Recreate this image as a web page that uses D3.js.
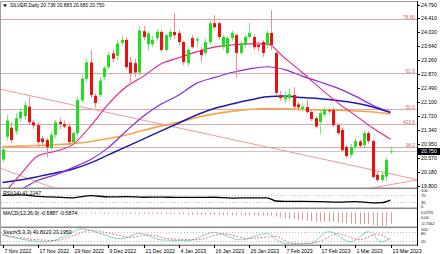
<!DOCTYPE html>
<html>
<head>
<meta charset="utf-8">
<script src="https://cdn.jsdelivr.net/npm/d3@7"></script>
<style>
  body { margin: 0; background: #fff; }
  svg { display: block; font-family: "Liberation Sans", Arial, sans-serif; }
</style>
</head>
<body>
<div id="chart"></div>
<script>
// ---- data (bar index 0 = 7 Nov 2022, 88 = 13 Mar 2023) ----
const opens  = [20.52,21.15,21.40,21.30,21.66,21.72,21.98,21.55,21.47,21.10,21.06,20.84,21.20,21.56,21.50,21.43,21.00,21.25,22.15,22.75,
                23.20,22.28,22.30,22.80,23.07,23.45,23.38,23.74,23.82,23.20,23.18,22.92,24.06,23.70,23.70,23.87,24.04,23.54,23.90,24.04,
                24.01,23.76,23.18,23.87,23.80,23.54,23.46,23.76,24.28,24.28,23.62,23.46,23.87,23.95,23.46,23.68,23.90,23.90,23.68,23.76,
                23.68,24.01,23.46,22.30,22.18,22.22,22.30,22.04,21.92,21.97,21.83,21.66,21.56,21.76,21.88,21.89,21.47,21.34,20.87,20.65,
                20.87,21.02,20.92,21.25,21.03,20.10,19.96,20.05,20.739];
const highs  = [20.90,21.75,21.55,21.80,21.95,22.14,22.26,21.62,21.55,21.18,21.12,21.28,21.62,21.66,21.60,21.50,21.30,22.25,22.85,23.30,
                23.54,22.35,22.80,23.10,23.50,23.55,23.82,23.95,23.88,23.35,23.30,24.20,24.20,24.05,23.92,24.12,24.10,24.00,24.12,24.56,
                24.10,23.80,23.62,23.95,23.90,23.62,23.85,24.35,24.50,24.32,23.95,23.92,24.08,24.00,23.80,23.96,24.28,23.98,23.78,23.82,
                24.08,24.64,23.55,22.42,22.40,22.48,22.52,22.12,22.08,22.22,21.90,21.72,21.86,21.96,21.95,21.95,21.52,21.40,20.92,20.95,
                21.10,21.08,21.32,21.30,21.08,20.18,20.18,20.58,20.883];
const lows   = [20.44,21.05,20.98,21.20,21.55,21.62,21.48,21.36,20.86,20.92,20.58,20.78,21.12,21.36,21.38,20.92,20.95,21.18,22.10,22.65,
                22.22,21.95,22.25,22.70,23.00,23.20,23.25,23.65,23.00,22.58,22.80,22.85,23.82,23.52,23.62,23.80,23.48,23.50,23.82,23.85,
                23.66,23.12,23.10,23.58,23.62,23.21,23.40,23.70,24.10,23.84,23.55,23.40,23.80,22.77,23.40,23.60,23.85,23.55,23.50,23.35,
                23.60,23.55,22.30,22.14,22.06,22.14,21.92,21.88,21.84,21.78,21.58,21.38,21.22,21.70,21.78,21.42,21.20,20.72,20.55,20.58,
                20.80,20.84,20.86,20.96,20.00,19.90,19.90,19.92,20.680];
const closes = [20.80,21.60,21.06,21.66,21.84,22.02,21.55,21.46,21.00,21.00,20.86,21.20,21.55,21.50,21.43,21.00,21.25,22.16,22.75,23.20,
                22.30,22.08,22.70,23.05,23.40,23.30,23.72,23.82,23.07,22.90,22.92,24.08,23.90,24.00,23.82,24.04,23.54,23.95,24.04,23.95,
                23.76,23.21,23.54,23.62,23.84,23.40,23.76,24.28,24.17,23.90,23.90,23.87,24.01,23.46,23.73,23.90,24.01,23.62,23.62,23.46,
                24.01,23.68,22.36,22.22,22.30,22.32,21.98,21.96,21.98,21.83,21.64,21.43,21.80,21.89,21.85,21.47,21.25,20.78,20.62,20.87,
                21.03,20.90,21.25,21.03,20.04,19.96,20.10,20.51,20.750];

const dateTicks    = ["7 Nov 2022","17 Nov 2022","29 Nov 2022","9 Dec 2022","21 Dec 2022","4 Jan 2023",
                      "16 Jan 2023","26 Jan 2023","7 Feb 2023","17 Feb 2023","1 Mar 2023","13 Mar 2023"];
const dateTickBars = [0, 8, 16, 24, 32, 40, 48, 56, 64, 72, 80, 88];
const priceTicks   = [24.790,24.410,24.030,23.640,23.260,22.870,22.490,22.100,21.720,21.340,20.950,20.570,20.180,19.800];

const fibLevels = [24.40, 22.915, 21.906, 21.49, 20.875];
const fibLabels = ["78.60", "61.8", "50.0", "423.6", "38.2"];

// trend lines: two anchor points each (bar, price)
const trendBars   = [[0, 88], [0, 10], [83.4, 94.1]];
const trendPrices = [[22.446, 20.128], [20.26, 19.81], [19.73, 19.96]];

// moving averages sampled every 4 bars
const maBars   = [0,4,8,12,16,20,24,28,32,36,40,44,48,52,56,60,64,68,72,76,80,84,88];
const maFast   = [19.54,20.10,20.62,20.75,20.94,21.45,22.05,22.52,22.82,23.16,23.33,23.49,23.62,23.68,23.71,23.71,23.32,22.92,22.49,22.09,21.74,21.39,21.08];
const maMid    = [19.45,19.68,19.95,20.10,20.30,20.52,20.85,21.30,21.72,22.05,22.30,22.62,22.78,22.92,23.02,23.08,23.00,22.82,22.66,22.49,22.27,22.02,21.84];
const maSlow   = [19.89,19.96,20.05,20.15,20.26,20.43,20.65,20.87,21.09,21.31,21.53,21.75,21.93,22.05,22.16,22.25,22.27,22.23,22.20,22.15,22.08,21.97,21.82];
const maLong   = [20.88,20.89,20.91,20.93,20.96,21.02,21.10,21.20,21.33,21.45,21.55,21.68,21.78,21.85,21.90,21.93,21.92,21.90,21.89,21.88,21.86,21.83,21.78];

// RSI(14)
const rsiBars = [0,4,8,12,16,20,24,28,32,36,40,44,48,52,56,60,62,64,68,72,76,80,84,86,88];
const rsiVals = [67,70,62,58,54,66,59,60,57,58,56,56,57,52,54,54,36,34,34,33,30,33,26,27,41.2];

// MACD(12,26,9) histogram, one value per bar
const macdVals = [-0.02,-0.03,-0.03,-0.04,-0.04,-0.05,-0.05,-0.05,-0.06,-0.06,-0.06,-0.06,-0.05,-0.05,-0.05,-0.06,-0.06,-0.05,-0.04,-0.04,
                  -0.05,-0.06,-0.06,-0.06,-0.06,-0.06,-0.06,-0.06,-0.07,-0.08,-0.08,-0.07,-0.07,-0.08,-0.08,-0.08,-0.09,-0.09,-0.09,-0.09,
                  -0.10,-0.11,-0.12,-0.12,-0.12,-0.13,-0.13,-0.12,-0.12,-0.13,-0.14,-0.14,-0.14,-0.15,-0.15,-0.15,-0.15,-0.16,-0.16,-0.17,
                  -0.17,-0.17,-0.22,-0.27,-0.31,-0.34,-0.37,-0.40,-0.42,-0.44,-0.46,-0.48,-0.49,-0.49,-0.49,-0.50,-0.52,-0.55,-0.58,-0.60,
                  -0.61,-0.62,-0.61,-0.61,-0.66,-0.70,-0.7162,-0.68,-0.5887];

// Stochastic(5,3,3)
const stoBars   = [0,5,10,14,18,22,27,31,36,42,48,54,60,63,65,70,74,79,83,86,88];
const stoMain   = [59,30,16,50,98,70,35,69,29,24,75,29,69,15,2,8,80,16,80,16,40.8];
const sigBars   = [0,6,12,16,20,24,29,33,38,44,50,56,62,65,68,72,76,81,85,88];
const stoSignal = [62,35,25,55,88,72,45,60,35,30,66,38,50,12,4,20,68,30,65,23.2];

// indicator scale labels: [value, text, nudge in px]
const rsiLabels  = [[100, "100", 1.5], [70, "70", 0.6], [30, "30", 0], [0, "0", -0.7]];
const macdLabels = [[0.0755, "0.0755", 1.5], [0, "0.00", 5], [-0.7162, "-0.7162", -2.4]];
const stoLabels  = [[100, "100", 1.3], [80, "80", 2.3], [20, "20", 0]];

// ---- layout ----
const W = 440, H = 254;
const PL = 1, PR = 417;
const MAIN = { top: 2, bottom: 188 };
const RSI_P = { top: 189, bottom: 208 };
const MACD_P = { top: 209, bottom: 227 };
const STO_P = { top: 228, bottom: 245 };
const FONT = 5.2, SMALL = 4;

const svg = d3.select("#chart").append("svg").attr("width", W).attr("height", H);

const x = d3.scaleLinear().domain([0, 88]).range([2.5, 390.5]);
const y = d3.scaleLinear().domain([19.80, 24.79]).range([185.7, 4.7]);
const yRsi = d3.scaleLinear().domain([0, 100]).range([RSI_P.bottom - 0.5, RSI_P.top + 0.5]);
const yMacd = d3.scaleLinear().domain([-0.7162, 0.0755]).range([MACD_P.bottom - 1, MACD_P.top + 2]);
const ySto = d3.scaleLinear().domain([0, 100]).range([STO_P.bottom - 0.5, STO_P.top + 0.5]);

// clip paths for each pane
function clip(id, p) {
  svg.append("clipPath").attr("id", id)
    .append("rect").attr("x", PL).attr("y", p.top).attr("width", PR - PL).attr("height", p.bottom - p.top);
}
clip("cMain", MAIN); clip("cRsi", RSI_P); clip("cMacd", MACD_P); clip("cSto", STO_P);

const main = svg.append("g").attr("clip-path", "url(#cMain)");

// fibonacci levels
main.selectAll(".fib").data(fibLevels).enter().append("line")
  .attr("x1", PL).attr("x2", PR)
  .attr("y1", d => Math.round(y(d)) + 0.5).attr("y2", d => Math.round(y(d)) + 0.5)
  .attr("stroke", "#dba7a7").attr("stroke-width", 1);

svg.selectAll(".fibLabel").data(fibLevels).enter().append("text")
  .attr("x", PR - 2).attr("y", d => Math.round(y(d)) - 0.5)
  .attr("text-anchor", "end").attr("font-size", 4.8).attr("fill", "#c46a6a")
  .text((d, i) => fibLabels[i]);

// last price line
main.append("line")
  .attr("x1", PL).attr("x2", PR)
  .attr("y1", Math.round(y(closes[88])) + 0.5).attr("y2", Math.round(y(closes[88])) + 0.5)
  .attr("stroke", "#c8c8c8").attr("stroke-width", 1);

// trend lines, extended to the pane edges
trendBars.forEach((b, i) => {
  const p = trendPrices[i];
  const slope = (p[1] - p[0]) / (b[1] - b[0]);
  const b0 = x.invert(PL), b1 = x.invert(PR);
  main.append("line")
    .attr("x1", x(b0)).attr("y1", y(p[0] + slope * (b0 - b[0])))
    .attr("x2", x(b1)).attr("y2", y(p[0] + slope * (b1 - b[0])))
    .attr("stroke", "#ec8c8c").attr("stroke-width", 0.9);
});

// moving averages
const maLine = d3.line().x((d, i) => x(maBars[i])).y(d => y(d)).curve(d3.curveMonotoneX);
[[maLong, "#f5a44a", 1.6], [maSlow, "#1c1ca8", 1.5], [maMid, "#8a2be2", 1.2], [maFast, "#e8208c", 1.1]]
  .forEach(([vals, col, w]) => {
    main.append("path").datum(vals).attr("d", maLine)
      .attr("fill", "none").attr("stroke", col).attr("stroke-width", w);
  });

// candles
const bars = d3.range(opens.length);
const candle = main.selectAll(".candle").data(bars).enter().append("g");
candle.append("line")
  .attr("x1", i => Math.round(x(i)) + 0.5).attr("x2", i => Math.round(x(i)) + 0.5)
  .attr("y1", i => y(highs[i])).attr("y2", i => y(lows[i]))
  .attr("stroke", i => closes[i] >= opens[i] ? "#7fe57f" : "#f08c8c").attr("stroke-width", 1);
candle.append("rect")
  .attr("x", i => Math.round(x(i)) - 1)
  .attr("width", 3)
  .attr("y", i => y(Math.max(opens[i], closes[i])))
  .attr("height", i => Math.max(1, Math.abs(y(opens[i]) - y(closes[i]))))
  .attr("fill", i => closes[i] >= opens[i] ? "#1fe01f" : "#ee1010");

// title
svg.append("path").attr("d", "M3,4.5 L7,4.5 L5,7 Z").attr("fill", "#000");
svg.append("text").attr("x", 10).attr("y", 6.6).attr("font-size", 4.9).attr("fill", "#000")
  .text("SILVER,Daily  20.739 20.883 20.680 20.750");

// ---- RSI pane ----
const rsiG = svg.append("g").attr("clip-path", "url(#cRsi)");
[70, 30].forEach(v => rsiG.append("line").attr("x1", PL).attr("x2", PR)
  .attr("y1", Math.round(yRsi(v)) + 0.5).attr("y2", Math.round(yRsi(v)) + 0.5)
  .attr("stroke", "#bdbdbd").attr("stroke-dasharray", "1,2"));
rsiG.append("path").datum(rsiVals)
  .attr("d", d3.line().x((d, i) => x(rsiBars[i])).y(d => yRsi(d)).curve(d3.curveMonotoneX))
  .attr("fill", "none").attr("stroke", "#000").attr("stroke-width", 1.3);
svg.append("text").attr("x", 3).attr("y", RSI_P.top + 5.5).attr("font-size", FONT).text("RSI(14) 41.2247");

// ---- MACD pane ----
const macdG = svg.append("g").attr("clip-path", "url(#cMacd)");
macdG.selectAll(".hist").data(macdVals).enter().append("line")
  .attr("x1", (d, i) => Math.round(x(i)) + 0.5).attr("x2", (d, i) => Math.round(x(i)) + 0.5)
  .attr("y1", yMacd(0)).attr("y2", d => yMacd(d))
  .attr("stroke", "#e07a7a").attr("stroke-width", 0.8);
svg.append("text").attr("x", 3).attr("y", MACD_P.top + 5.5).attr("font-size", FONT).text("MACD(12,26,9) -0.5887 -0.5874");

// ---- Stochastic pane ----
const stoG = svg.append("g").attr("clip-path", "url(#cSto)");
[80, 20].forEach(v => stoG.append("line").attr("x1", PL).attr("x2", PR)
  .attr("y1", Math.round(ySto(v)) + 0.5).attr("y2", Math.round(ySto(v)) + 0.5)
  .attr("stroke", "#bdbdbd").attr("stroke-dasharray", "1,2"));
stoG.append("path").datum(stoMain)
  .attr("d", d3.line().x((d, i) => x(stoBars[i])).y(d => ySto(d)).curve(d3.curveMonotoneX))
  .attr("fill", "none").attr("stroke", "#5fc8b8").attr("stroke-width", 0.8);
stoG.append("path").datum(stoSignal)
  .attr("d", d3.line().x((d, i) => x(sigBars[i])).y(d => ySto(d)).curve(d3.curveMonotoneX))
  .attr("fill", "none").attr("stroke", "#e05a5a").attr("stroke-width", 0.8).attr("stroke-dasharray", "2,1.5");
svg.append("text").attr("x", 3).attr("y", STO_P.top + 5.5).attr("font-size", FONT).text("Stoch(5,3,3) 40.8123 23.1950");

// ---- frames ----
[MAIN.bottom, RSI_P.bottom, MACD_P.bottom, STO_P.bottom].forEach(v =>
  svg.append("rect").attr("x", 0).attr("y", v - 0.5).attr("width", PR + 1).attr("height", 1.6).attr("fill", "#8c8c8c"));
svg.append("line").attr("x1", 0).attr("x2", PR).attr("y1", 1.5).attr("y2", 1.5).attr("stroke", "#a0a0a0");
svg.append("line").attr("x1", 0.5).attr("x2", 0.5).attr("y1", 1).attr("y2", STO_P.bottom).attr("stroke", "#a0a0a0");
svg.append("line").attr("x1", PR + 0.5).attr("x2", PR + 0.5).attr("y1", 1).attr("y2", STO_P.bottom + 1).attr("stroke", "#000");

// price axis
const yAxis = svg.append("g");
priceTicks.forEach(v => {
  const yy = Math.round(y(v)) + 0.5;
  yAxis.append("line").attr("x1", PR).attr("x2", PR + 3).attr("y1", yy).attr("y2", yy).attr("stroke", "#000");
  yAxis.append("text").attr("x", PR + 4).attr("y", yy).attr("dy", "0.35em").attr("font-size", FONT).text(v.toFixed(3));
});
// last price badge
const yLast = Math.round(y(closes[88])) + 0.5;
svg.append("rect").attr("x", PR + 1).attr("y", yLast - 3.5).attr("width", W - PR - 1).attr("height", 7).attr("fill", "#000");
svg.append("text").attr("x", PR + 4).attr("y", yLast).attr("dy", "0.35em").attr("font-size", FONT).attr("fill", "#fff")
  .text(closes[88].toFixed(3));

// indicator scale labels (nudged a little so stacked labels do not collide)
function paneLabels(list, scale) {
  list.forEach(([v, t, nudge]) =>
    svg.append("text").attr("x", PR + 4).attr("y", scale(v) + nudge).attr("dy", "0.35em")
      .attr("font-size", SMALL).text(t));
}
paneLabels(rsiLabels, yRsi);
paneLabels(macdLabels, yMacd);
paneLabels(stoLabels, ySto);

// date axis
dateTickBars.forEach((b, i) => {
  const xx = Math.round(x(b)) + 0.5;
  svg.append("line").attr("x1", xx).attr("x2", xx).attr("y1", STO_P.bottom).attr("y2", STO_P.bottom + 3).attr("stroke", "#000");
  svg.append("text").attr("x", xx + 1).attr("y", STO_P.bottom + 7.5).attr("font-size", FONT).text(dateTicks[i]);
});
</script>
</body>
</html>
